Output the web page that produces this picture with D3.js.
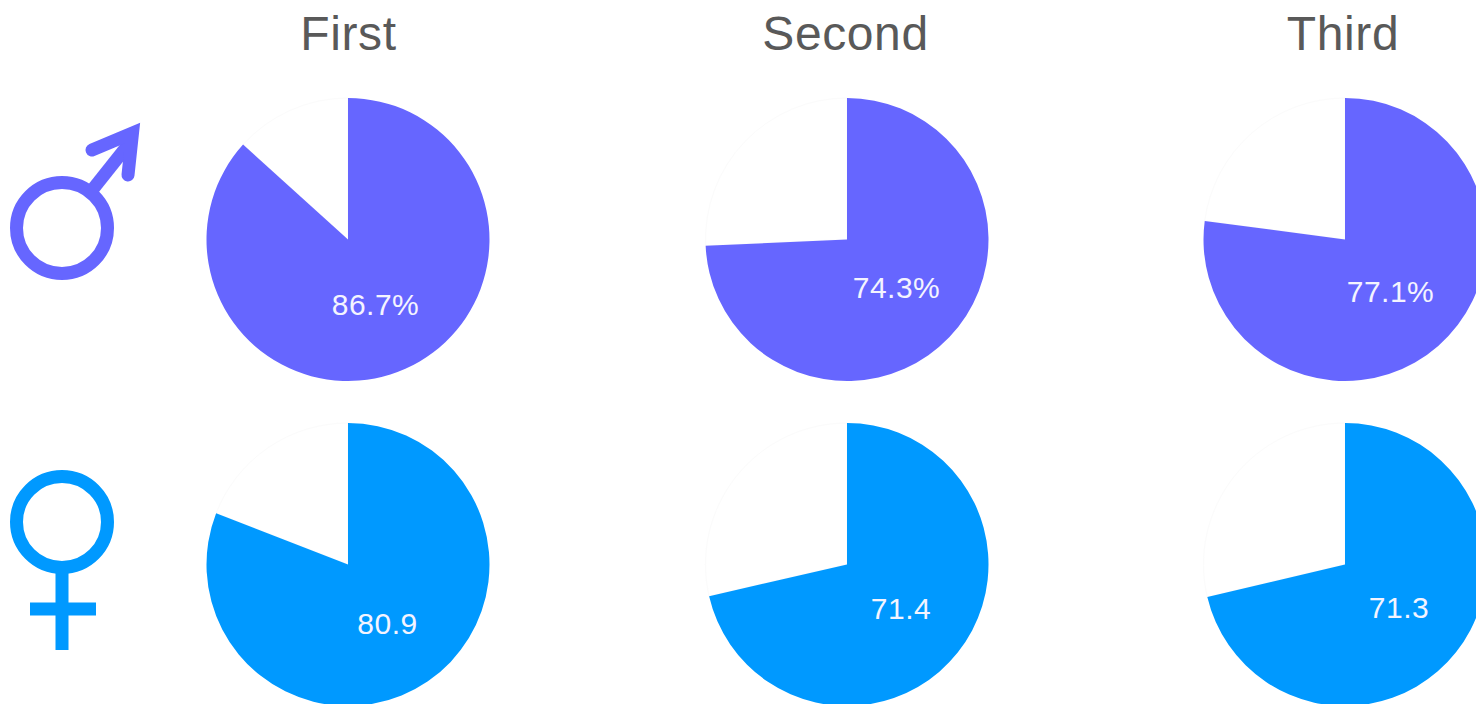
<!DOCTYPE html>
<html><head><meta charset="utf-8">
<script src="https://cdn.jsdelivr.net/npm/d3@7"></script>
<style>html,body{margin:0;background:#fff}svg{display:block}text{font-family:"Liberation Sans",Arial,sans-serif}</style>
</head><body><svg width="1476" height="704"></svg>
<script>
const stages = ["First", "Second", "Third"];
const maleValues = [86.7, 74.3, 77.1];
const femaleValues = [80.9, 71.4, 71.3];
const maleLabels = ["86.7%", "74.3%", "77.1%"];
const femaleLabels = ["80.9", "71.4", "71.3"];
const maleColor = "#6666ff", femaleColor = "#0099ff";

const svg = d3.select("svg");
const cx = d3.scaleOrdinal().domain(stages).range([348, 847, 1345]);
const titleX = d3.scaleOrdinal().domain(stages).range([348.5, 845.5, 1343]);
const rows = [
  {values: maleValues, labels: maleLabels, color: maleColor, cy: 239.5, labelX: [27.5, 49.5, 45.5], labelY: [75, 58, 62]},
  {values: femaleValues, labels: femaleLabels, color: femaleColor, cy: 564.5, labelX: [39.5, 54, 54], labelY: [69, 54, 53]}
];
const pie = d3.pie().sort(null).value(d => d);
const arc = d3.arc().innerRadius(0).outerRadius(141.5);

// Column headings
stages.forEach(s => svg.append("text").attr("x", titleX(s)).attr("y", 50)
  .attr("text-anchor", "middle").attr("font-size", 48).attr("letter-spacing", 0.6)
  .attr("fill", "#595959").text(s));

// One pie per stage and sex; the remainder slice stays white with a faint edge
rows.forEach(row => stages.forEach((s, i) => {
  const g = svg.append("g").attr("transform", `translate(${cx(s)},${row.cy})`);
  const slices = pie([row.values[i], 100 - row.values[i]]);
  g.append("path").attr("d", arc(slices[1])).attr("fill", "#fff").attr("stroke", "#fbfbfb").attr("stroke-width", 1);
  g.append("path").attr("d", arc(slices[0])).attr("fill", row.color);
  g.append("text").attr("x", row.labelX[i]).attr("y", row.labelY[i]).attr("text-anchor", "middle")
    .attr("font-size", 30).attr("letter-spacing", 0.5).attr("fill", "#f4f4ff").text(row.labels[i]);
}));

// Male symbol: ring with an arrow shaft and rounded arrowhead ends
const m = svg.append("g").attr("fill", "none").attr("stroke", maleColor);
m.append("circle").attr("cx", 62).attr("cy", 228).attr("r", 45.5).attr("stroke-width", 13);
m.append("path").attr("d", "M93 189L128 145").attr("stroke-width", 13);
m.append("path").attr("d", "M92 150L132.5 133L128 175").attr("stroke-width", 13)
  .attr("stroke-linecap", "round").attr("stroke-linejoin", "miter").attr("stroke-miterlimit", 6);

// Female symbol: ring with a cross below
const f = svg.append("g").attr("fill", "none").attr("stroke", femaleColor).attr("stroke-width", 13);
f.append("circle").attr("cx", 62).attr("cy", 522).attr("r", 45.5);
f.append("path").attr("d", "M62 570V650M30 609H96");
</script></body></html>
